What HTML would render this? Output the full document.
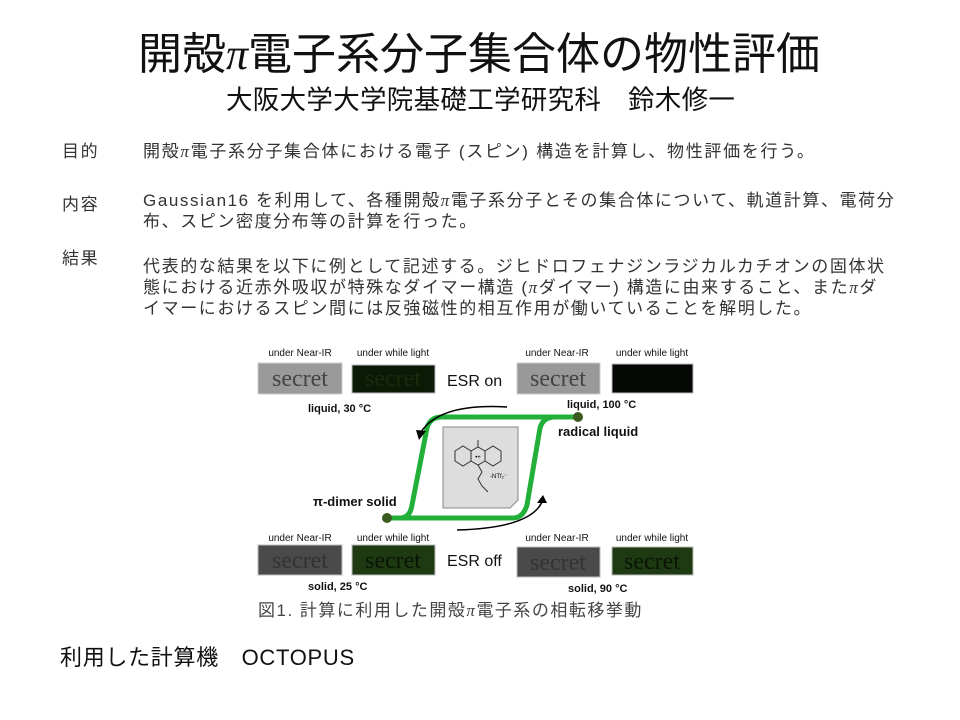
<!DOCTYPE html>
<html><head><meta charset="utf-8"><style>
body{margin:0;width:960px;height:720px;background:#fff;position:relative;overflow:hidden;font-family:"Liberation Sans","Noto Sans CJK JP",sans-serif;color:#333}
.t{position:absolute;white-space:nowrap;line-height:1}
.b{font-size:17px;letter-spacing:1.6px}
</style></head><body>
<div class="t" style="left:138px;top:33px;font-size:44px;color:#111">開殻<i style="font-family:'Liberation Serif',serif">π</i>電子系分子集合体の物性評価</div>
<div class="t" style="left:226px;top:87px;font-size:26.5px;color:#111;letter-spacing:0.3px">大阪大学大学院基礎工学研究科　鈴木修一</div>

<div class="t b" style="left:62px;top:143px">目的</div>
<div class="t b" style="left:143px;top:143px;letter-spacing:1.7px">開殻<i style="font-family:'Liberation Serif',serif">π</i>電子系分子集合体における電子 (スピン) 構造を計算し、物性評価を行う。</div>
<div class="t b" style="left:62px;top:196px">内容</div>
<div class="t b" style="left:143px;top:192px">Gaussian16 を利用して、各種開殻<i style="font-family:'Liberation Serif',serif">π</i>電子系分子とその集合体について、軌道計算、電荷分</div>
<div class="t b" style="left:143px;top:213px">布、スピン密度分布等の計算を行った。</div>
<div class="t b" style="left:62px;top:250px">結果</div>
<div class="t b" style="left:143px;top:258px">代表的な結果を以下に例として記述する。ジヒドロフェナジンラジカルカチオンの固体状</div>
<div class="t b" style="left:143px;top:279px">態における近赤外吸収が特殊なダイマー構造 (<i style="font-family:'Liberation Serif',serif">π</i>ダイマー) 構造に由来すること、また<i style="font-family:'Liberation Serif',serif">π</i>ダ</div>
<div class="t b" style="left:143px;top:300px">イマーにおけるスピン間には反強磁性的相互作用が働いていることを解明した。</div>

<svg style="position:absolute;left:0;top:0" width="960" height="720" font-family="Liberation Sans, sans-serif">
<g font-size="10" fill="#111" text-anchor="middle">
<text x="300" y="356">under Near-IR</text><text x="393" y="356">under while light</text>
<text x="557" y="356">under Near-IR</text><text x="652" y="356">under while light</text>
<text x="300" y="541">under Near-IR</text><text x="393" y="541">under while light</text>
<text x="557" y="541">under Near-IR</text><text x="652" y="541">under while light</text>
</g>
<g>
<rect x="258" y="363" width="84" height="31" fill="#9a9a9a" stroke="#ccc"/>
<text x="300" y="386" font-family="Liberation Serif,serif" font-size="24" text-anchor="middle" fill="#444">secret</text>
<rect x="352" y="365" width="83" height="28" fill="#0b1a05" stroke="#bbb"/>
<text x="393" y="386" font-family="Liberation Serif,serif" font-size="24" text-anchor="middle" fill="#1b2a0c">secret</text>
<rect x="517" y="363" width="83" height="31" fill="#999" stroke="#ccc"/>
<text x="558" y="386" font-family="Liberation Serif,serif" font-size="24" text-anchor="middle" fill="#444">secret</text>
<rect x="612" y="364" width="81" height="29" fill="#050805" stroke="#bbb"/>
<rect x="258" y="545" width="84" height="30" fill="#4a4a4a" stroke="#bbb"/>
<text x="300" y="568" font-family="Liberation Serif,serif" font-size="24" text-anchor="middle" fill="#333">secret</text>
<rect x="352" y="545" width="83" height="30" fill="#1d3a12" stroke="#bbb"/>
<text x="393" y="568" font-family="Liberation Serif,serif" font-size="24" text-anchor="middle" fill="#0a1505">secret</text>
<rect x="517" y="547" width="83" height="30" fill="#4a4a4a" stroke="#bbb"/>
<text x="558" y="570" font-family="Liberation Serif,serif" font-size="24" text-anchor="middle" fill="#333">secret</text>
<rect x="612" y="547" width="81" height="28" fill="#1d3a12" stroke="#bbb"/>
<text x="652" y="569" font-family="Liberation Serif,serif" font-size="24" text-anchor="middle" fill="#0a1505">secret</text>
</g>
<text x="447" y="386" font-size="16" fill="#111">ESR on</text>
<text x="447" y="566" font-size="16" fill="#111">ESR off</text>
<g font-size="11" font-weight="bold" fill="#111">
<text x="308" y="412">liquid, 30 °C</text>
<text x="567" y="408">liquid, 100 °C</text>
<text x="308" y="590">solid, 25 °C</text>
<text x="568" y="592">solid, 90 °C</text>
<text x="558" y="436" font-size="13">radical liquid</text>
<text x="313" y="506" font-size="13">π-dimer solid</text>
</g>
<g fill="none" stroke="#22b03a" stroke-width="5">
<path d="M387 518 L513 518 Q523 518 527 505 L540 428 Q543 417 555 417 L578 417"/>
<path d="M387 518 L400 518 Q410 518 412 505 L427 428 Q430 417 442 417 L578 417"/>
</g>
<circle cx="387" cy="518" r="5" fill="#3b5a1e"/>
<circle cx="578" cy="417" r="5" fill="#3b5a1e"/>
<polygon points="443,427 518,427 518,500 510,508 443,508" fill="#ddd" stroke="#888"/>
<g fill="none" stroke="#333" stroke-width="1">
<polygon points="455,451 463,446 471,451 471,461 463,466 455,461"/>
<polygon points="485,451 493,446 501,451 501,461 493,466 485,461"/>
<path d="M471 451 L478 447 L485 451 M471 461 L478 465 L485 461 M478 447 L478 440 M478 465 L482 472 L478 479 L482 486 L488 492"/>
</g>
<text x="478" y="459" font-size="6" text-anchor="middle">•+</text>
<text x="490" y="478" font-size="6">-NTf₂⁻</text>
<path d="M507 407 Q440 403 421 432" fill="none" stroke="#000" stroke-width="1.5"/>
<polygon points="416,430 426,431 419,440" fill="#000"/>
<path d="M457 530 Q530 528 542 502" fill="none" stroke="#000" stroke-width="1.5"/>
<polygon points="537,503 547,503 543,495" fill="#000"/>
</svg>

<div class="t" style="left:258px;top:602px;font-size:17px;color:#444;letter-spacing:1.5px">図1. 計算に利用した開殻<i style="font-family:'Liberation Serif',serif">π</i>電子系の相転移挙動</div>
<div class="t" style="left:60px;top:647px;font-size:22px;color:#111;letter-spacing:0.7px">利用した計算機　OCTOPUS</div>
</body></html>
